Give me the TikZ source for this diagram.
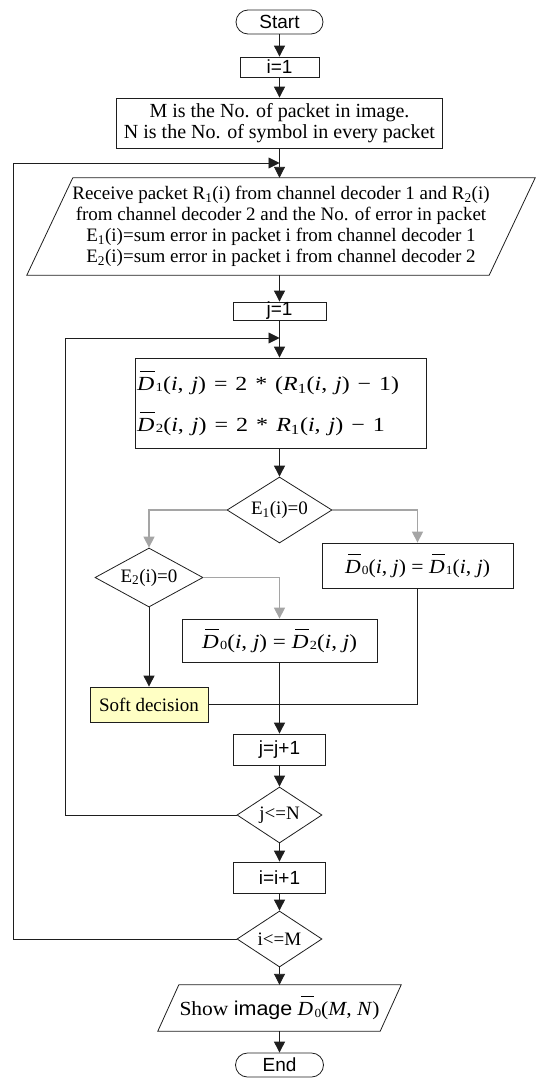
\documentclass[tikz,border=0pt]{standalone}
\usepackage{fontspec}
\usepackage{graphicx}
\setmainfont{Liberation Serif}
\newfontfamily\arialfont{Liberation Sans}
\usetikzlibrary{arrows.meta,shapes.geometric,calc}

\definecolor{softyellow}{RGB}{255,255,196}
\definecolor{gline}{RGB}{165,165,165}
\definecolor{ink}{RGB}{30,30,30}

% D with a bar, and the small index that follows it
\newcommand{\Dbar}{\leavevmode\rlap{\hspace{0.14em}\rule[0.92em]{0.6em}{0.05em}}\textit{D}}
\newcommand{\dsub}[1]{\kern0.06em\raisebox{-0.08em}{\scalebox{0.62}{#1}}}

\begin{document}
\begin{tikzpicture}[x=1pt,y=-1pt,
  box/.style={draw=ink, line width=0.8pt, rectangle, inner sep=0pt,
    font=\arialfont\fontsize{19}{20}\selectfont},
  txtbox/.style={box, font=\fontsize{19}{21}\selectfont},
  term/.style={box, rounded corners=12pt},
  dec/.style={draw=ink, line width=0.8pt, diamond, aspect=1.5, inner sep=0pt,
    font=\fontsize{19}{21}\selectfont},
  shape only/.style={inner sep=0pt, align=center, font=\fontsize{19}{21}\selectfont},
  arr/.style={draw=ink, line width=0.9pt, -{Triangle[length=11pt,width=11pt]}},
  garr/.style={draw=gline, line width=1.3pt, -{Triangle[length=11pt,width=11pt]}},
  plain/.style={draw=ink, line width=0.9pt}]
\useasboundingbox (0,0) rectangle (536,1081);

% main column
\node[term, minimum width=87, minimum height=24] (start) at (279.5,22) {Start};
\node[box, minimum width=79, minimum height=20] (i1) at (279.5,67) {i=1};
\node[txtbox, align=center, minimum width=326, minimum height=50,
  font=\fontsize{20}{21.5}\selectfont] (mbox) at (279.5,123)
  {M is the No. of packet in image.\\N is the No. of symbol in every packet};

% input parallelogram
\node[shape only, minimum width=462, minimum height=97] (recv) at (281,226.5)
  {Receive packet R\textsubscript{1}(i) from channel decoder 1 and R\textsubscript{2}(i)\\
   from channel decoder 2 and the No. of error in packet\\
   E\textsubscript{1}(i)=sum error in packet i from channel decoder 1\\
   E\textsubscript{2}(i)=sum error in packet i from channel decoder 2};
\draw[plain, line width=0.8pt] ($(recv.north west)+(23,0)$) -- ($(recv.north east)+(23,0)$)
  -- ($(recv.south east)+(-23,0)$) -- ($(recv.south west)+(-23,0)$) -- cycle;

\node[box, minimum width=93, minimum height=18] (j1) at (279.5,311) {j=1};

\node[box, text width=287pt, align=left, inner xsep=2pt, minimum height=90,
  font=\fontsize{20}{41}\selectfont] (dbox) at (280.5,403)
  {\resizebox{262pt}{\height}{\Dbar\dsub{1}(\textit{i}, \textit{j}) = 2 * (\textit{R}\textsubscript{1}(\textit{i}, \textit{j}) − 1)}\\
   \resizebox{248pt}{\height}{\Dbar\dsub{2}(\textit{i}, \textit{j}) = 2 * \textit{R}\textsubscript{1}(\textit{i}, \textit{j}) − 1}};

\node[dec, minimum width=105, minimum height=66] (e1) at (279.5,510) {E\textsubscript{1}(i)=0};
\node[box, minimum width=191, minimum height=45, font=\fontsize{20}{22}\selectfont] (d01) at (417.5,565.5)
  {\resizebox{145pt}{\height}{\Dbar\dsub{0}(\textit{i}, \textit{j}) = \Dbar\dsub{1}(\textit{i}, \textit{j})}};
\node[dec, minimum width=108, minimum height=59] (e2) at (149,577.5) {E\textsubscript{2}(i)=0};
\node[box, minimum width=195, minimum height=43, font=\fontsize{20}{22}\selectfont] (d02) at (279.5,640.5)
  {\resizebox{155pt}{\height}{\Dbar\dsub{0}(\textit{i}, \textit{j}) = \Dbar\dsub{2}(\textit{i}, \textit{j})}};
\node[txtbox, fill=softyellow, minimum width=118, minimum height=35] (soft) at (149,704.5) {Soft decision};

\node[box, minimum width=92, minimum height=31] (jinc) at (279.5,749.5) {j=j+1};
\node[dec, minimum width=85, minimum height=56] (jle) at (279.5,815) {j\textless=N};
\node[box, minimum width=92, minimum height=31] (iinc) at (279.5,877.5) {i=i+1};
\node[dec, minimum width=85, minimum height=56] (ile) at (279.5,939) {i\textless=M};

% output parallelogram
\node[shape only, minimum width=222, minimum height=46, font=\fontsize{20}{22}\selectfont] (show) at (279.5,1008)
  {\resizebox{200pt}{\height}{Show {\arialfont image} \Dbar\dsub{0}(\textit{M}, \textit{N})}};
\draw[plain, line width=0.8pt] ($(show.north west)+(10.5,0)$) -- ($(show.north east)+(10.5,0)$)
  -- ($(show.south east)+(-10.5,0)$) -- ($(show.south west)+(-10.5,0)$) -- cycle;

\node[term, minimum width=88, minimum height=24] (end) at (279.5,1065) {End};

% loop corners
\coordinate (oL) at (13,163);
\coordinate (iL) at (65,338);

% connectors
\draw[arr] (start.south) -- (i1.north);
\draw[arr] (i1.south) -- (mbox.north);
\draw[arr] (mbox.south) -- (mbox.south |- recv.north);
\draw[arr] (j1.north |- recv.south) -- (j1.north);
\draw[arr] (j1.south) -- (j1.south |- dbox.north);
\draw[arr] (e1.north |- dbox.south) -- (e1.north);
\draw[garr] (e1.west) -| (e2.north);
\draw[garr] (e1.east) -| (d01.north);
\draw[garr] (e2.east) -| (d02.north);
\draw[arr] (e2.south) -- (soft.north);
\draw[plain] (soft.east) -| (d01.south);
\draw[arr] (d02.south) -- (jinc.north);
\draw[arr] (jinc.south) -- (jle.north);
\draw[arr] (jle.south) -- (iinc.north);
\draw[arr] (iinc.south) -- (ile.north);
\draw[arr] (ile.south) -- (show.north);
\draw[arr] (show.south) -- (end.north);

% loops back
\draw[arr] (jle.west) -- (jle.west -| iL) -- (iL) -- (iL -| j1.south);
\draw[arr] (ile.west) -- (ile.west -| oL) -- (oL) -- (oL -| mbox.south);
\end{tikzpicture}
\end{document}
